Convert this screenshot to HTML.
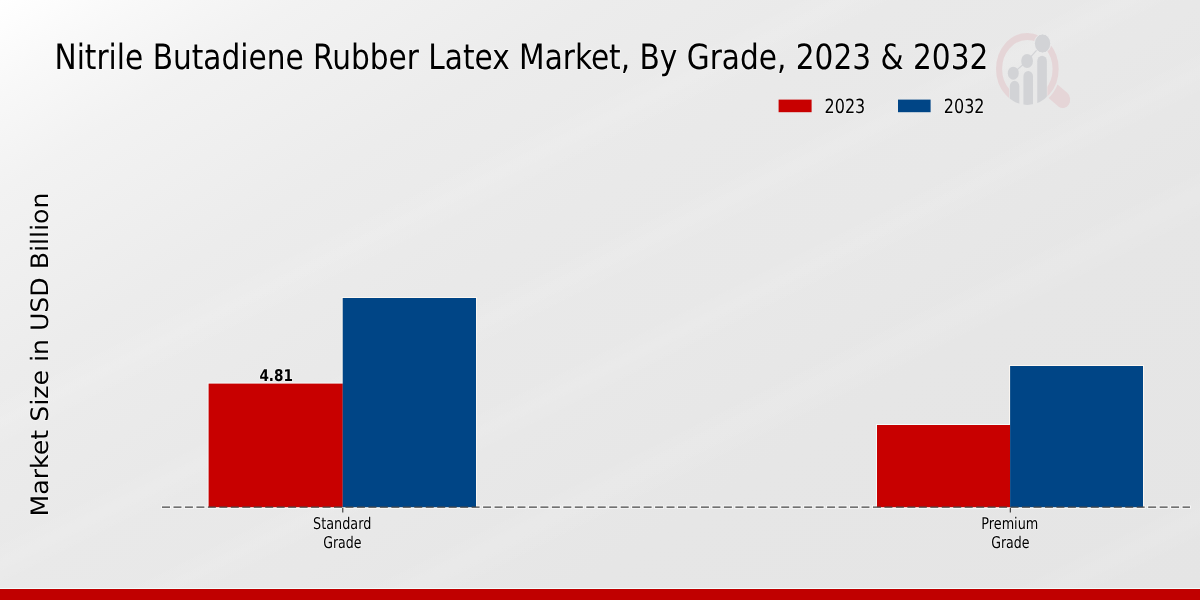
<!DOCTYPE html>
<html lang="en">
<head>
<meta charset="utf-8">
<title>Nitrile Butadiene Rubber Latex Market, By Grade, 2023 &amp; 2032</title>
<style>
html,body{margin:0;padding:0;width:1200px;height:600px;overflow:hidden;background:#e8e8e8;}
svg{display:block;position:absolute;left:0;top:0;}
.c{font-family:"DejaVu Sans Condensed","DejaVu Sans","Liberation Sans",sans-serif;font-stretch:condensed;}
.n{font-family:"DejaVu Sans","Liberation Sans",sans-serif;}
text{fill:#000;text-rendering:geometricPrecision;paint-order:stroke;stroke:#fff;stroke-opacity:0.4;stroke-linejoin:round;}
</style>
</head>
<body>
<svg width="1200" height="600" viewBox="0 0 1200 600">
  <defs>
    <linearGradient id="bg" gradientUnits="userSpaceOnUse" x1="0" y1="0" x2="617.6" y2="970.5">
      <stop offset="0" stop-color="#ffffff"/>
      <stop offset="0.07" stop-color="#f8f8f8"/>
      <stop offset="0.14" stop-color="#f2f2f2"/>
      <stop offset="0.28" stop-color="#ececec"/>
      <stop offset="0.42" stop-color="#e9e9e9"/>
      <stop offset="0.56" stop-color="#e8e8e8"/>
      <stop offset="0.7" stop-color="#e6e6e6"/>
      <stop offset="1" stop-color="#e5e5e5"/>
    </linearGradient>
    <linearGradient id="sheen" x1="0" y1="0" x2="1" y2="1">
      <stop offset="0.33" stop-color="#fff" stop-opacity="0"/>
      <stop offset="0.352" stop-color="#fff" stop-opacity="0.1"/>
      <stop offset="0.375" stop-color="#fff" stop-opacity="0"/>
      <stop offset="0.45" stop-color="#fff" stop-opacity="0"/>
      <stop offset="0.47" stop-color="#fff" stop-opacity="0.1"/>
      <stop offset="0.49" stop-color="#fff" stop-opacity="0"/>
      <stop offset="0.54" stop-color="#fff" stop-opacity="0"/>
      <stop offset="0.56" stop-color="#fff" stop-opacity="0.09"/>
      <stop offset="0.58" stop-color="#fff" stop-opacity="0"/>
      <stop offset="0.64" stop-color="#fff" stop-opacity="0"/>
      <stop offset="0.66" stop-color="#fff" stop-opacity="0.1"/>
      <stop offset="0.685" stop-color="#fff" stop-opacity="0"/>
      <stop offset="0.91" stop-color="#fff" stop-opacity="0"/>
      <stop offset="0.93" stop-color="#fff" stop-opacity="0.09"/>
      <stop offset="0.95" stop-color="#fff" stop-opacity="0"/>
    </linearGradient>
    <clipPath id="lens"><circle cx="0" cy="0" r="36"/></clipPath>
    <clipPath id="ringclip"><path d="M-40 -40 H40 V40 H23 V8 H-21 V40 H-40 Z"/></clipPath>
  </defs>
  <rect x="0" y="0" width="1200" height="600" fill="url(#bg)"/>
  <rect x="0" y="0" width="1200" height="600" fill="url(#sheen)"/>

  <!-- watermark logo -->
  <g id="logo" transform="translate(1027.35 68.9) scale(0.87 1)">
    <g clip-path="url(#ringclip)">
      <circle cx="0" cy="0" r="32.5" fill="none" stroke="#e5d5d7" stroke-width="7"/>
    </g>
    <g transform="rotate(37)">
      <path d="M37 -8.5 L51 -8.5 A8.5 8.5 0 0 1 51 8.5 L37 8.5 A38 38 0 0 0 37 -8.5 Z" fill="#e5d5d7"/>
    </g>
    <g clip-path="url(#lens)">
      <path d="M-20.2 40 V17.4 a5.5 5.5 0 0 1 11 0 V40 Z" fill="#d2d3d6"/>
      <path d="M-4.5 40 V7.5 a5.5 5.5 0 0 1 11 0 V40 Z" fill="#d2d3d6"/>
      <path d="M11.4 40 V-7.7 a5.5 5.5 0 0 1 11 0 V40 Z" fill="#d2d3d6"/>
    </g>
    <path d="M-16.2 4.3 L-0.3 -7.9 L17.5 -25.4" fill="none" stroke="#d2d3d6" stroke-width="1.2"/>
    <ellipse cx="-16.2" cy="4.3" rx="6.3" ry="6.5" fill="#d2d3d6"/>
    <ellipse cx="-0.3" cy="-7.9" rx="6.8" ry="7" fill="#d2d3d6"/>
    <ellipse cx="17.5" cy="-25.4" rx="9.4" ry="9.6" fill="#d2d3d6" stroke="#ececec" stroke-width="1"/>
  </g>

  <!-- title -->
  <text class="c" transform="translate(54.5 68.9) scale(0.3490)" font-size="100" textLength="2675.6" lengthAdjust="spacingAndGlyphs" stroke-width="5.2">Nitrile Butadiene Rubber Latex Market, By Grade, 2023 &amp; 2032</text>

  <!-- legend -->
  <rect x="778.6" y="99.6" width="33" height="12.6" fill="#c80000"/>
  <text class="c" transform="translate(824.6 112.8) scale(0.1950)" font-size="100" textLength="208.7" lengthAdjust="spacingAndGlyphs" stroke-width="9.2">2023</text>
  <rect x="898" y="99.6" width="32.6" height="12.6" fill="#004586"/>
  <text class="c" transform="translate(943.8 112.8) scale(0.1950)" font-size="100" textLength="208.7" lengthAdjust="spacingAndGlyphs" stroke-width="9.2">2032</text>

  <!-- y label -->
  <text class="n" transform="translate(47.9 516.5) rotate(-90) scale(0.2400)" font-size="100" textLength="1350.0" lengthAdjust="spacingAndGlyphs" stroke-width="7.5">Market Size in USD Billion</text>

  <!-- bars -->
  <line x1="161" y1="507.2" x2="1191" y2="507.2" stroke="#f7f7f7" stroke-width="3.2" stroke-dasharray="10 1.467"/>
  <g fill="#f4fbfb">
    <rect x="207.6" y="382.6" width="136" height="126"/>
    <rect x="876" y="424" width="135" height="84.6"/>
  </g>
  <g fill="#fcf7f1">
    <rect x="341.7" y="297" width="135.3" height="211.6"/>
    <rect x="1009.1" y="365" width="134.9" height="143.6"/>
  </g>
  <rect x="208.6" y="383.6" width="134.2" height="123.6" fill="#c80000"/>
  <rect x="342.7" y="298" width="133.3" height="209.2" fill="#004586"/>
  <rect x="877" y="425" width="133.2" height="82.2" fill="#c80000"/>
  <rect x="1010.1" y="366" width="132.9" height="141.2" fill="#004586"/>

  <!-- axis -->
  <line x1="162" y1="507.2" x2="1190" y2="507.2" stroke="#454545" stroke-width="1.3" stroke-dasharray="8 3.467"/>
  <line x1="342.8" y1="507.8" x2="342.8" y2="512.5" stroke="#222" stroke-width="1"/>
  <line x1="1010.3" y1="507.8" x2="1010.3" y2="512.5" stroke="#222" stroke-width="1"/>

  <!-- value label -->
  <text class="c" transform="translate(259.4 380.55) scale(0.1620)" font-size="100" textLength="206.8" lengthAdjust="spacingAndGlyphs" stroke-width="11.1" font-weight="bold">4.81</text>

  <!-- tick labels -->
  <text class="c" transform="translate(313.1 529) scale(0.1620)" font-size="100" textLength="359.3" lengthAdjust="spacingAndGlyphs" stroke-width="11.1">Standard</text>
  <text class="c" transform="translate(323.2 547.8) scale(0.1620)" font-size="100" textLength="235.8" lengthAdjust="spacingAndGlyphs" stroke-width="11.1">Grade</text>
  <text class="c" transform="translate(981.3 529) scale(0.1620)" font-size="100" textLength="351.9" lengthAdjust="spacingAndGlyphs" stroke-width="11.1">Premium</text>
  <text class="c" transform="translate(991.2 547.8) scale(0.1620)" font-size="100" textLength="235.8" lengthAdjust="spacingAndGlyphs" stroke-width="11.1">Grade</text>

  <!-- footer bar -->
  <rect x="0" y="588" width="1200" height="2" fill="#f1fdfd"/>
  <rect x="0" y="589" width="1200" height="11" fill="#c00000"/>
</svg>
</body>
</html>
